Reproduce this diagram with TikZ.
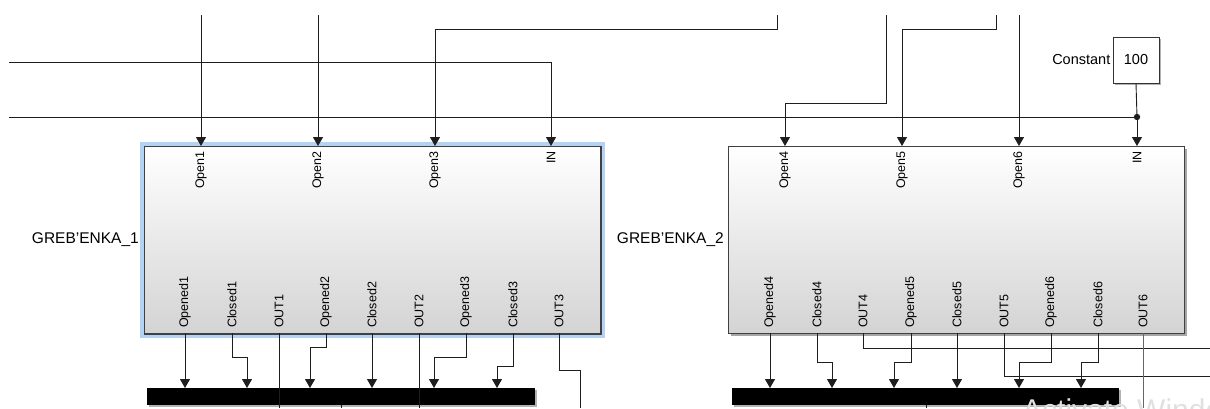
\documentclass[tikz,border=0pt]{standalone}
\usepackage{fontspec}
\setmainfont{Liberation Sans}
\usetikzlibrary{arrows.meta,shadows,calc}
\definecolor{halo}{HTML}{B3D2F4}
\definecolor{wirec}{HTML}{1E1E1E}
\begin{document}
\begin{tikzpicture}[x=1pt,y=-1pt,
  wire/.style={draw=wirec, line width=0.9pt},
  sig/.style={wire, -{Triangle[length=9pt,width=10pt]}},
  blk/.style={draw=black!75, line width=1pt, top color=white, bottom color=black!17,
    inner sep=0pt, anchor=north west,
    drop shadow={shadow xshift=2pt, shadow yshift=-2pt, opacity=0.35, fill=black}},
  bus/.style={fill=black, draw=none, inner sep=0pt, anchor=north west,
    drop shadow={shadow xshift=2pt, shadow yshift=-2pt, opacity=0.3, fill=black}},
  cbox/.style={draw=black!80, line width=1pt, fill=white, minimum width=46pt, minimum height=46pt, inner sep=0pt,
    drop shadow={shadow xshift=2pt, shadow yshift=-2pt, opacity=0.3, fill=black}, font=\fontsize{14.5}{16}\selectfont},
  plabt/.style={rotate=90, anchor=east, inner sep=1pt, font=\fontsize{12.5}{14}\selectfont},
  plabb/.style={rotate=90, anchor=west, inner sep=1pt, font=\fontsize{12.5}{14}\selectfont},
  blab/.style={anchor=east, inner sep=1pt, font=\fontsize{15.5}{17}\selectfont}
]
\useasboundingbox (0,0) rectangle (1210,408);

% blocks
\node[blk, minimum width=456pt, minimum height=187pt] (b1) at (144,146) {};
\draw[halo, line width=4pt] ($(b1.north west)+(-2,-2)$) rectangle ($(b1.south east)+(2,2)$);
\draw[black!75, line width=1pt] (b1.north west) rectangle (b1.south east);
\node[blk, minimum width=456pt, minimum height=187pt] (b2) at (728,146) {};

\node[blab] (name1) at (140,240) {GREB'ENKA\_1};
\node[blab] (name2) at (725,240) {GREB'ENKA\_2};

% port coordinates, block 1
\coordinate (b1-i1) at (201,146);
\coordinate (b1-i2) at (318,146);
\coordinate (b1-i3) at (435,146);
\coordinate (b1-i4) at (551,146);
\coordinate (b1-o1) at (185,333);
\coordinate (b1-o2) at (232,333);
\coordinate (b1-o3) at (279,333);
\coordinate (b1-o4) at (326,333);
\coordinate (b1-o5) at (372,333);
\coordinate (b1-o6) at (419,333);
\coordinate (b1-o7) at (466,333);
\coordinate (b1-o8) at (513,333);
\coordinate (b1-o9) at (559,333);
% port coordinates, block 2
\coordinate (b2-i1) at (785,146);
\coordinate (b2-i2) at (902,146);
\coordinate (b2-i3) at (1019,146);
\coordinate (b2-i4) at (1137,146);
\coordinate (b2-o1) at (770,333);
\coordinate (b2-o2) at (817,333);
\coordinate (b2-o3) at (863,333);
\coordinate (b2-o4) at (911,333);
\coordinate (b2-o5) at (957,333);
\coordinate (b2-o6) at (1004,333);
\coordinate (b2-o7) at (1051,333);
\coordinate (b2-o8) at (1098,333);
\coordinate (b2-o9) at (1143,333);

% port labels
\node[plabt] (l1i1) at ($(b1-i1)+(0,4)$) {Open1};
\node[plabt] (l1i2) at ($(b1-i2)+(0,4)$) {Open2};
\node[plabt] (l1i3) at ($(b1-i3)+(0,4)$) {Open3};
\node[plabt] (l1i4) at ($(b1-i4)+(0,4)$) {IN};
\node[plabt] (l2i1) at ($(b2-i1)+(0,4)$) {Open4};
\node[plabt] (l2i2) at ($(b2-i2)+(0,4)$) {Open5};
\node[plabt] (l2i3) at ($(b2-i3)+(0,4)$) {Open6};
\node[plabt] (l2i4) at ($(b2-i4)+(0,4)$) {IN};
\node[plabb] (l1o1) at ($(b1-o1)+(0,-4)$) {Opened1};
\node[plabb] (l1o2) at ($(b1-o2)+(0,-4)$) {Closed1};
\node[plabb] (l1o3) at ($(b1-o3)+(0,-4)$) {OUT1};
\node[plabb] (l1o4) at ($(b1-o4)+(0,-4)$) {Opened2};
\node[plabb] (l1o5) at ($(b1-o5)+(0,-4)$) {Closed2};
\node[plabb] (l1o6) at ($(b1-o6)+(0,-4)$) {OUT2};
\node[plabb] (l1o7) at ($(b1-o7)+(0,-4)$) {Opened3};
\node[plabb] (l1o8) at ($(b1-o8)+(0,-4)$) {Closed3};
\node[plabb] (l1o9) at ($(b1-o9)+(0,-4)$) {OUT3};
\node[plabb] (l2o1) at ($(b2-o1)+(0,-4)$) {Opened4};
\node[plabb] (l2o2) at ($(b2-o2)+(0,-4)$) {Closed4};
\node[plabb] (l2o3) at ($(b2-o3)+(0,-4)$) {OUT4};
\node[plabb] (l2o4) at ($(b2-o4)+(0,-4)$) {Opened5};
\node[plabb] (l2o5) at ($(b2-o5)+(0,-4)$) {Closed5};
\node[plabb] (l2o6) at ($(b2-o6)+(0,-4)$) {OUT5};
\node[plabb] (l2o7) at ($(b2-o7)+(0,-4)$) {Opened6};
\node[plabb] (l2o8) at ($(b2-o8)+(0,-4)$) {Closed6};
\node[plabb] (l2o9) at ($(b2-o9)+(0,-4)$) {OUT6};

% constant
\node[cbox] (const) at (1136,60) {100};
\node[anchor=east, inner sep=2pt, font=\fontsize{14.5}{16}\selectfont] (constlab) at (const.west) {Constant};

% bus bars
\node[bus, minimum width=388pt, minimum height=17pt] (bus1) at (147,388) {};
\node[bus, minimum width=387pt, minimum height=17pt] (bus2) at (732,388) {};

% free ends (top)
\coordinate (t1) at (201,15);
\coordinate (t2) at (318,15);
\coordinate (t3) at (777,15);
\coordinate (t4) at (886,15);
\coordinate (t5) at (996,15);
\coordinate (t6) at (1019,15);
\coordinate (la) at (9,62);
\coordinate (lb) at (9,117);
\coordinate (j) at (1137,117);

% top connectors
\draw[sig] (t1) -- (b1-i1);
\draw[sig] (t2) -- (b1-i2);
\draw[sig] (t3) -- ++(0,14) -| (b1-i3);
\draw[sig] (la) -| (b1-i4);
\draw[wire] (lb) -- (j);
\draw[sig] (t4) -- ++(0,88) -| (b2-i1);
\draw[sig] (t5) -- ++(0,14) -| (b2-i2);
\draw[sig] (t6) -- (b2-i3);
\draw[wire] (const.south) -- (j);
\fill[wirec] (j) circle (3.2pt);
\draw[sig] (j) -- (b2-i4);

% bus inputs
\coordinate (u1) at (185,388);
\coordinate (u2) at (247,388);
\coordinate (u3) at (310,388);
\coordinate (u4) at (372,388);
\coordinate (u5) at (434,388);
\coordinate (u6) at (497,388);
\coordinate (v1) at (770,388);
\coordinate (v2) at (832,388);
\coordinate (v3) at (894,388);
\coordinate (v4) at (957,388);
\coordinate (v5) at (1019,388);
\coordinate (v6) at (1081,388);
% free ends (bottom / right)
\coordinate (e1) at (279,408);
\coordinate (e2) at (419,408);
\coordinate (e3) at (580,408);
\coordinate (e4) at (1210,348);
\coordinate (e5) at (1210,376);
\coordinate (e6) at (1143,408);
\coordinate (bo1) at (341,408);
\coordinate (bo2) at (926,408);

% bottom connectors block 1
\draw[sig] (b1-o1) -- (u1);
\draw[sig] (b1-o2) -- ++(0,24) -| (u2);
\draw[wire] (b1-o3) -- (e1);
\draw[sig] (b1-o4) -- ++(0,14) -| (u3);
\draw[sig] (b1-o5) -- (u4);
\draw[wire] (b1-o6) -- (e2);
\draw[sig] (b1-o7) -- ++(0,24) -| (u5);
\draw[sig] (b1-o8) -- ++(0,33) -| (u6);
\draw[wire] (b1-o9) -- ++(0,37) -| (e3);
\draw[wire] (bo1 |- bus1.south) -- (bo1);

% bottom connectors block 2
\draw[sig] (b2-o1) -- (v1);
\draw[sig] (b2-o2) -- ++(0,29) -| (v2);
\draw[wire] (b2-o3) |- (e4);
\draw[sig] (b2-o4) -- ++(0,29) -| (v3);
\draw[sig] (b2-o5) -- (v4);
\draw[wire] (b2-o6) |- (e5);
\draw[sig] (b2-o7) -- ++(0,29) -| (v5);
\draw[sig] (b2-o8) -- ++(0,29) -| (v6);
\draw[draw=black!60, line width=0.7pt] (b2-o9) -- (e6);
\draw[wire] (bo2 |- bus2.south) -- (bo2);

% faint watermark (cut off at the bottom edge, as in the screenshot)
\node[anchor=base west, inner sep=0pt, text=black!12, font=\fontsize{30}{32}\selectfont] (wm) at (1022,420) {Activate Windows};
\end{tikzpicture}
\end{document}
